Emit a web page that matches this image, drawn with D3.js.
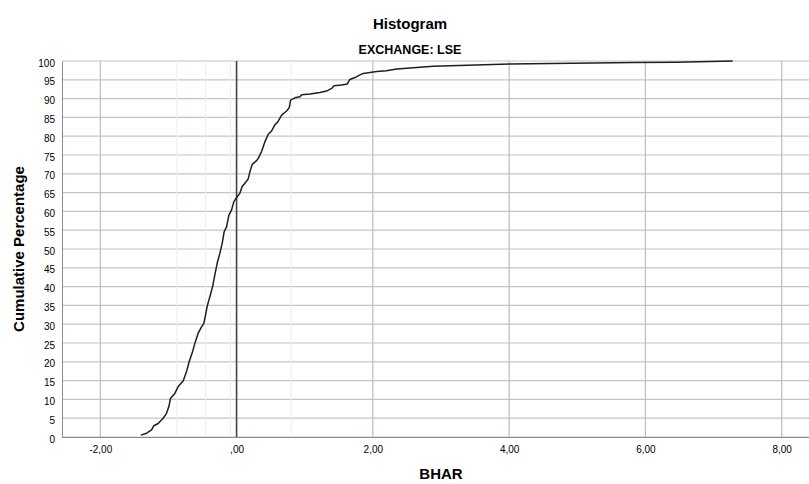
<!DOCTYPE html>
<html>
<head>
<meta charset="utf-8">
<script src="https://cdn.jsdelivr.net/npm/d3@7"></script>
<style>
  html, body { margin: 0; padding: 0; background: #fff; }
  svg { display: block; font-family: Arial, "Liberation Sans", sans-serif; }
</style>
</head>
<body>
<svg id="chart" width="809" height="484"></svg>
<script>
// Cumulative distribution of BHAR (buy-and-hold abnormal returns), LSE
const bharValues = [
  -1.405, -1.32, -1.248, -1.214, -1.151, -1.078, -1.028, -0.994, -0.969, -0.906,
  -0.857, -0.784, -0.734, -0.696, -0.646, -0.612, -0.564, -0.514, -0.48, -0.451,
  -0.432, -0.407, -0.392, -0.352, -0.319, -0.285, -0.245, -0.211, -0.182, -0.147,
  -0.113, -0.073, -0.040, 0.009, 0.048, 0.082, 0.122, 0.170, 0.195, 0.229,
  0.294, 0.317, 0.367, 0.416, 0.464, 0.514, 0.562, 0.611, 0.661, 0.734,
  0.773, 0.793, 0.856, 0.93, 0.954, 1.076, 1.223, 1.32, 1.395, 1.43,
  1.54, 1.624, 1.664, 1.737, 1.81, 1.86, 2.056, 2.2, 2.35, 2.887,
  4.01, 5.82, 6.45, 7.28
];
const cumulativePct = [
  0.5, 1.0, 1.9, 3.0, 3.6, 5.0, 6.3, 8.1, 10.3, 11.6,
  13.4, 14.9, 17.4, 20.0, 22.7, 24.9, 27.6, 29.3, 30.2, 32.9,
  34.7, 36.4, 37.3, 40.0, 43.1, 46.2, 48.9, 51.5, 54.6, 55.9,
  59.0, 60.4, 62.6, 63.9, 64.8, 66.6, 67.5, 68.6, 70.5, 72.5,
  73.5, 74.1, 75.9, 78.5, 80.5, 81.4, 83.0, 84.0, 85.6, 86.7,
  87.6, 89.6, 90.2, 90.5, 91.0, 91.2, 91.6, 92.0, 92.7, 93.4,
  93.6, 93.9, 95.1, 95.6, 96.3, 96.7, 97.2, 97.4, 97.9, 98.6,
  99.2, 99.6, 99.7, 100
];
const xTicks = [-2, 0, 2, 4, 6, 8];
const yTicks = d3.range(0, 101, 5);
const referenceLine = 0;
const faintMarkers = [-0.877, -0.455, -0.088, 0.80];

const svg = d3.select("#chart");
const plotLeft = 62, plotRight = 820, plotTop = 61, plotBottom = 437;

const x = d3.scaleLinear().domain([-2.562, 8.562]).range([plotLeft, plotRight]);
const y = d3.scaleLinear().domain([0, 100]).range([plotBottom, plotTop]);

const locale = d3.formatLocale({ decimal: ",", thousands: ".", grouping: [3], currency: ["", ""], minus: "-" });
const fmt2 = locale.format(".2f");
const xFormat = v => fmt2(v).replace(/^0,/, ",").replace(/^-0,/, "-,");

// horizontal grid
svg.append("g")
  .selectAll("line")
  .data(yTicks)
  .join("line")
  .attr("x1", plotLeft).attr("x2", plotRight)
  .attr("y1", d => y(d)).attr("y2", d => y(d))
  .attr("stroke", "#c4c4c4")
  .attr("stroke-width", 1.2);

// faint markers
svg.append("g")
  .selectAll("line")
  .data(faintMarkers)
  .join("line")
  .attr("x1", d => x(d)).attr("x2", d => x(d))
  .attr("y1", plotTop).attr("y2", plotBottom)
  .attr("stroke", "#e8eff8")
  .attr("stroke-width", 1);

// vertical grid
svg.append("g")
  .selectAll("line")
  .data(xTicks.filter(d => d !== referenceLine))
  .join("line")
  .attr("x1", d => x(d)).attr("x2", d => x(d))
  .attr("y1", plotTop).attr("y2", plotBottom)
  .attr("stroke", "#bdbdbd")
  .attr("stroke-width", 1.2);

// reference line at zero
svg.append("line")
  .attr("x1", x(referenceLine)).attr("x2", x(referenceLine))
  .attr("y1", plotTop).attr("y2", plotBottom)
  .attr("stroke", "#444")
  .attr("stroke-width", 1.6);

// axes
const yAxis = svg.append("g")
  .attr("transform", `translate(${plotLeft},0)`)
  .call(d3.axisLeft(y).tickValues(yTicks).tickSize(0).tickPadding(7));
yAxis.select(".domain").attr("stroke", "#8c8c8c");
yAxis.selectAll("text").attr("dy", "0.5em")
  .style("font-size", "10px").attr("fill", "#000");

const xAxis = svg.append("g")
  .attr("transform", `translate(0,${plotBottom})`)
  .call(d3.axisBottom(x).tickValues(xTicks).tickFormat(xFormat).tickSize(0).tickPadding(9.2));
xAxis.select(".domain").attr("stroke", "#8c8c8c");
xAxis.selectAll("text").style("font-size", "10px").attr("fill", "#000");
svg.selectAll(".tick line").remove();

// cumulative curve
const pts = bharValues.map((v, i) => [v, cumulativePct[i]]);
svg.append("path")
  .datum(pts)
  .attr("fill", "none")
  .attr("stroke", "#1e1e1e")
  .attr("stroke-width", 1.5)
  .attr("stroke-linejoin", "round")
  .attr("d", d3.line().x(d => x(d[0])).y(d => y(d[1])));

// titles
svg.append("text")
  .attr("x", 410).attr("y", 28.5)
  .attr("text-anchor", "middle")
  .style("font-size", "15px").style("font-weight", "bold")
  .text("Histogram");
svg.append("text")
  .attr("x", 410).attr("y", 54.3)
  .attr("text-anchor", "middle")
  .style("font-size", "12.5px").style("font-weight", "bold")
  .text("EXCHANGE: LSE");
svg.append("text")
  .attr("x", 441).attr("y", 479)
  .attr("text-anchor", "middle")
  .style("font-size", "15px").style("font-weight", "bold")
  .text("BHAR");
svg.append("text")
  .attr("transform", "translate(23.5,249) rotate(-90)")
  .attr("text-anchor", "middle")
  .style("font-size", "15px").style("font-weight", "bold")
  .text("Cumulative Percentage");
</script>
</body>
</html>
